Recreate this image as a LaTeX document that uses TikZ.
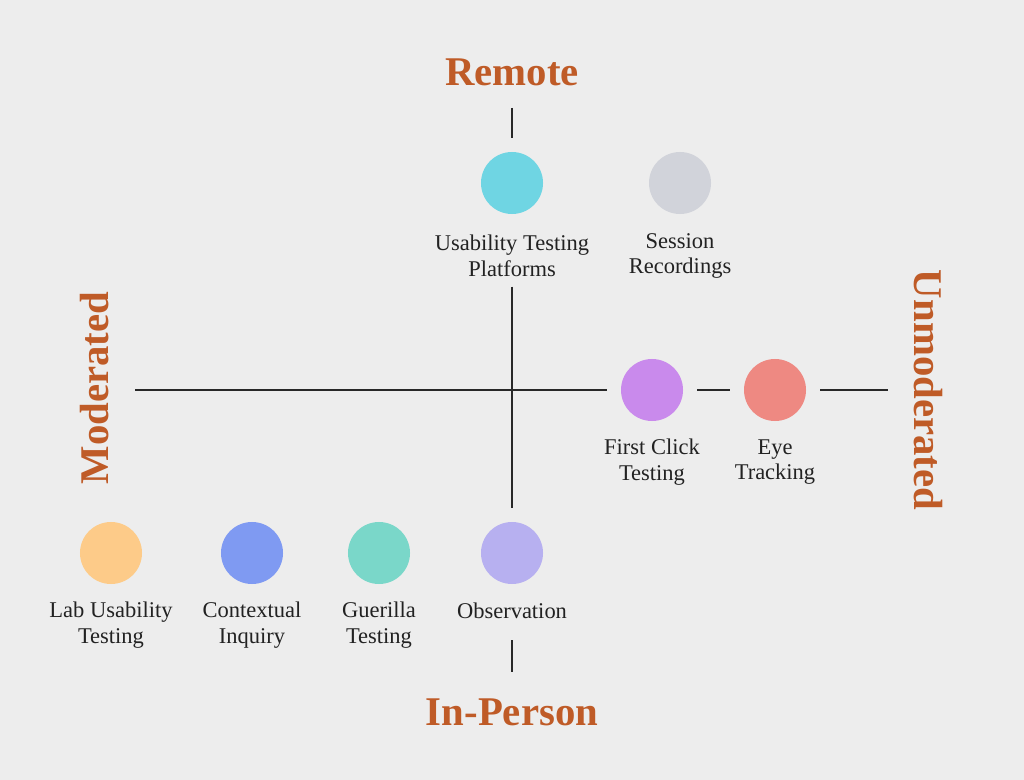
\documentclass[tikz,border=0pt]{standalone}
\usepackage{fontspec}
\setmainfont{Liberation Serif}
\usepackage{tikz}
\usetikzlibrary{positioning}
\usepackage{xcolor}
\definecolor{uxbg}{RGB}{237,237,237}
\definecolor{uxline}{RGB}{40,40,40}
\definecolor{uxtitle}{RGB}{191,91,39}
\definecolor{uxtext}{RGB}{34,34,34}
\definecolor{uxcyan}{RGB}{111,213,227}
\definecolor{uxgray}{RGB}{209,211,218}
\definecolor{uxpurple}{RGB}{201,138,236}
\definecolor{uxsalmon}{RGB}{238,137,130}
\definecolor{uxorange}{RGB}{253,203,137}
\definecolor{uxblue}{RGB}{127,154,242}
\definecolor{uxteal}{RGB}{122,215,201}
\definecolor{uxlavender}{RGB}{183,176,240}
\tikzstyle{method} = [circle, minimum size=1.55cm, inner sep=0pt, outer sep=0.35cm]
\tikzstyle{methodlabel} = [align=center, inner sep=0pt, outer sep=0.25cm, text=uxtext, font=\fontsize{16}{18.2}\selectfont]
\tikzstyle{axistitle} = [inner sep=0pt, text=uxtitle, font=\fontsize{29}{34}\selectfont\bfseries]
\tikzstyle{axis} = [line width=1.4pt, color=uxline]

\begin{document}
\begin{tikzpicture}[x=0.025cm,y=-0.025cm]
\fill[uxbg] (0,0) rectangle (1024,780);
\useasboundingbox (0,0) rectangle (1024,780);

% Axis titles
\node[axistitle] (remote) at (512,72) {Remote};
\node[axistitle] (inperson) at (512,712) {In-Person};
\node[axistitle, rotate=90] (moderated) at (95,388) {Moderated};
\node[axistitle, rotate=-90] (unmoderated) at (928,390) {Unmoderated};

% Remote methods
\node[method, fill=uxcyan] (utp) at (512,183) {};
\node[methodlabel] (utplbl) at (512,256) {Usability Testing\\Platforms};
\node[method, fill=uxgray] (session) at (680,183) {};
\node[methodlabel] (sessionlbl) at (680,256) {Session\\Recordings};

% Unmoderated methods
\node[method, fill=uxpurple] (firstclick) at (652,390) {};
\node[methodlabel] (firstclicklbl) at (652,462) {First Click\\Testing};
\node[method, fill=uxsalmon] (eye) at (775,390) {};
\node[methodlabel] (eyelbl) at (775,462) {Eye\\Tracking};

% In-person methods
\node[method, fill=uxorange] (lab) at (111,553) {};
\node[methodlabel] (lablbl) at (111,625) {Lab Usability\\Testing};
\node[method, fill=uxblue] (inquiry) at (252,553) {};
\node[methodlabel] (inquirylbl) at (252,625) {Contextual\\Inquiry};
\node[method, fill=uxteal] (guerilla) at (379,553) {};
\node[methodlabel] (guerillalbl) at (379,625) {Guerilla\\Testing};
\node[method, fill=uxlavender] (obs) at (512,553) {};
\node[methodlabel, anchor=base] (obslbl) at (512,618) {Observation};

% Axes
\coordinate (modend) at (135,390);
\coordinate (unmodend) at (888,390);
\draw[axis, shorten <=0.55cm] (remote.south) -- (utp);
\draw[axis] (utplbl) -- (obs);
\draw[axis, shorten <=0.3cm, shorten >=0.65cm] (obslbl.south) -- (inperson.north);
\draw[axis] (modend) -- (firstclick);
\draw[axis] (firstclick) -- (eye);
\draw[axis] (eye) -- (unmodend);
\end{tikzpicture}
\end{document}
